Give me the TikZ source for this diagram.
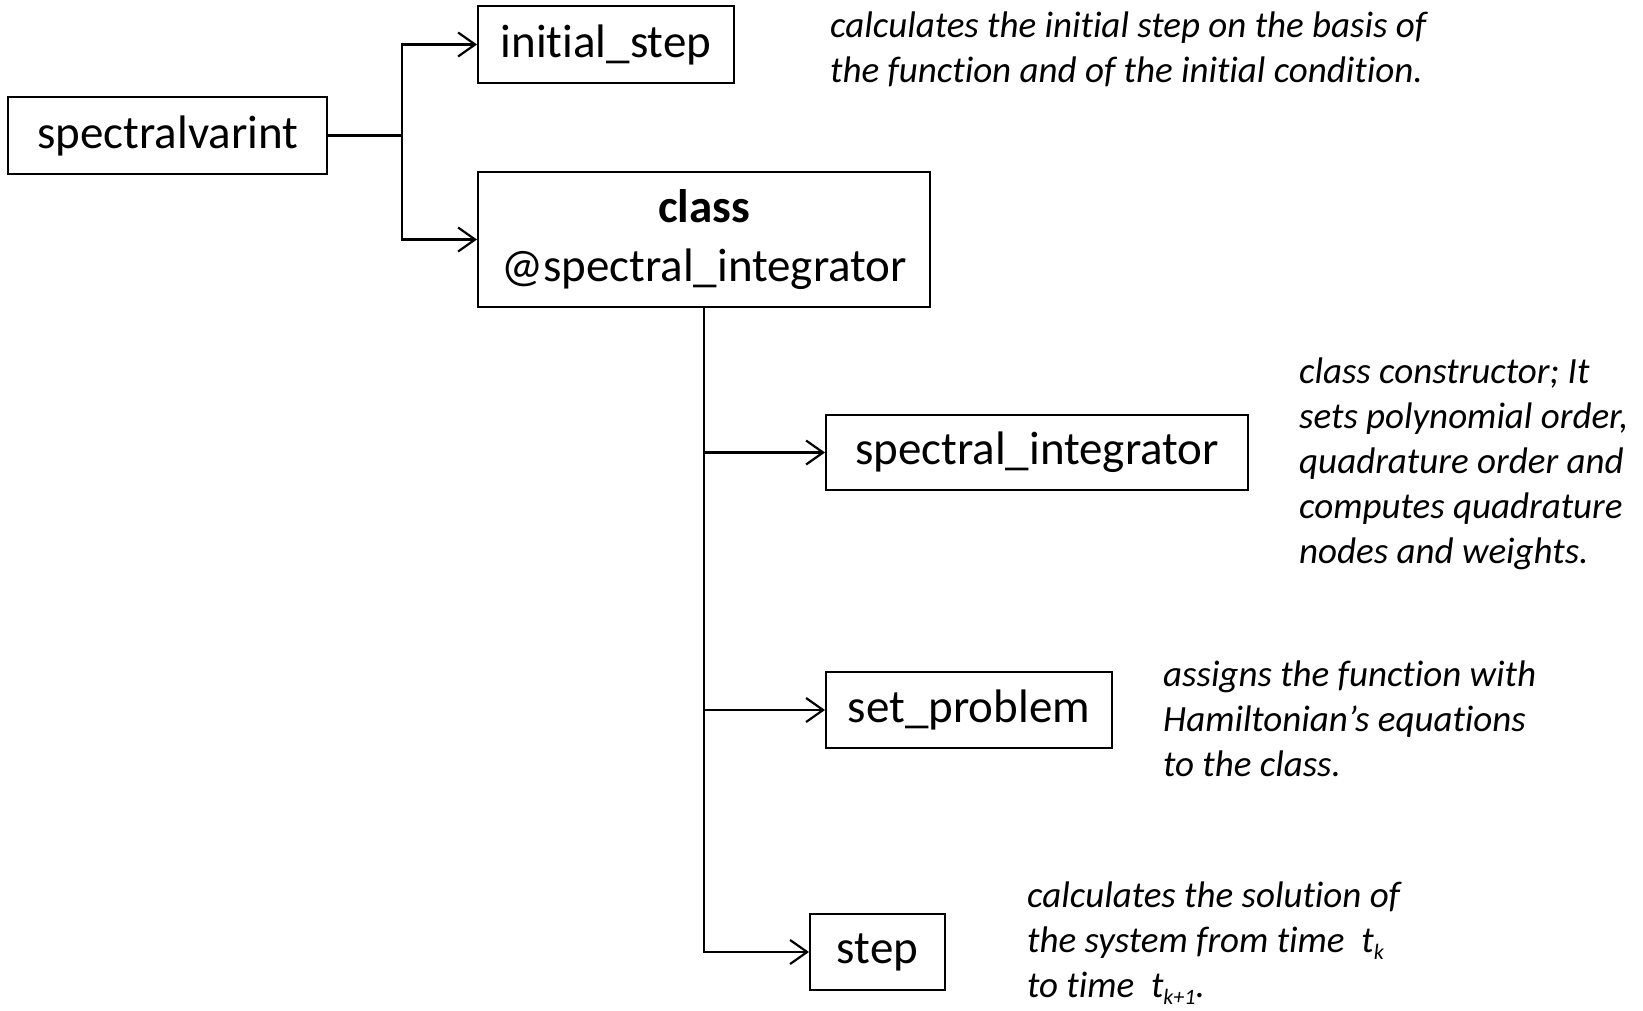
\documentclass[tikz,border=0pt]{standalone}
\usepackage{fontspec}
\setmainfont{Carlito}[Ligatures=NoCommon]
\usetikzlibrary{arrows.meta}
\tikzset{
  box/.style={draw, line width=2pt, inner sep=0pt, align=center, font=\fontsize{47}{57.6}\selectfont},
  note/.style={anchor=west, inner sep=0pt, align=left, font=\fontsize{37}{45}\selectfont\itshape},
  conn/.style={line width=2.8pt},
  arr/.style={conn, -{Straight Barb[length=17pt,width=24pt,line width=2.2pt]}},
}
\newcommand{\subk}[1]{\raisebox{-0.2em}{\fontsize{22}{22}\selectfont #1}}
\begin{document}
\begin{tikzpicture}[x=1pt,y=-1pt]
\useasboundingbox (0,0) rectangle (1643,1010);
\node[box, minimum width=319pt, minimum height=77pt] (sv) at (167.7,135.7) {\raisebox{-2pt}{spectralvarint}};
\node[box, minimum width=256pt, minimum height=77pt] (init) at (606,44.5) {\raisebox{-2pt}{initial\_step}};
\node[box, minimum width=452pt, minimum height=135pt] (cls) at (704,239.5) {\textbf{class}\\[2pt]@spectral\_integrator};
\node[box, minimum width=422pt, minimum height=75pt] (si) at (1037,452.5) {\raisebox{-2pt}{spectral\_integrator}};
\node[box, minimum width=286pt, minimum height=76pt] (sp) at (969,710) {\raisebox{-2pt}{set\_problem}};
\node[box, minimum width=135pt, minimum height=76pt] (st) at (877.5,952) {\raisebox{-2pt}{step}};
\coordinate (j) at (402,135.7);
\draw[conn] (sv.east) -- (j);
\draw[arr] (j) |- (init.west);
\draw[arr] (j) |- (cls.west);
\draw[conn] (cls.south) -- (cls.south |- st.west);
\draw[arr] (cls.south |- si.west) -- (si.west);
\draw[arr] (cls.south |- sp.west) -- (sp.west);
\draw[arr] (cls.south) |- (st.west);
\node[note] (n1) at (830,49) {calculates the initial step on the basis of\\the function and of the initial condition.};
\node[note] (n2) at (1299,463.5) {class constructor; It\\sets polynomial order,\\quadrature order and\\computes quadrature\\nodes and weights.};
\node[note] (n3) at (1163,718.5) {assigns the function with\\Hamiltonian’s equations\\to the class.};
\node[note] (n4) at (1027,943) {calculates the solution of\\the system from time \ t\subk{k}\\to time \ t\subk{k+1}.};
\end{tikzpicture}
\end{document}
